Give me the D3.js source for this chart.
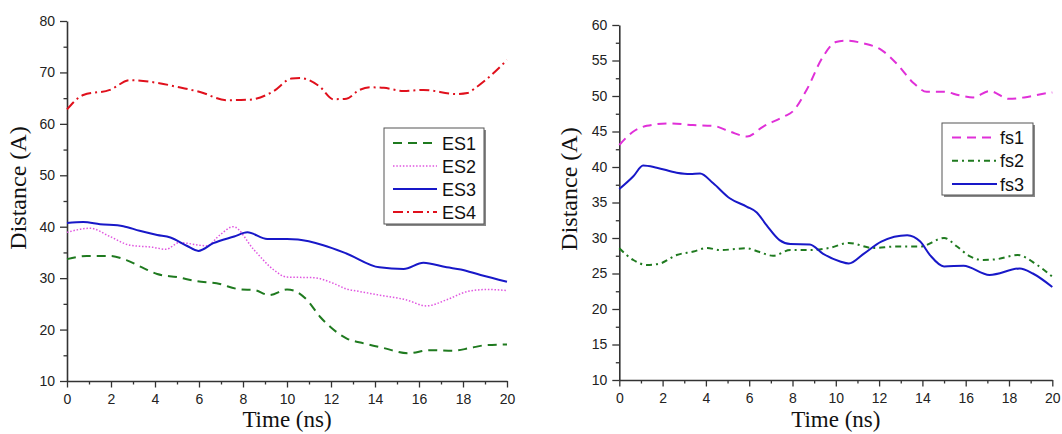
<!DOCTYPE html>
<html>
<head>
<meta charset="utf-8">
<script src="https://cdn.jsdelivr.net/npm/d3@7"></script>
<style>
  html, body { margin: 0; padding: 0; background: #fff; }
  svg { display: block; }
  .tick text { font-family: "Liberation Sans", Arial, sans-serif; font-size: 14px; fill: #222; }
</style>
</head>
<body>
<svg id="chart" width="1062" height="434"></svg>
<script>
// ---- Panel A: ES1–ES4 distances ----
const es1Time = [0, 0.9, 1.95, 2.7, 3.5, 4.1, 5, 5.9, 6.8, 7.9, 8.5, 9.2, 10, 10.3, 10.9, 11.5, 12, 12.7, 13.5, 14.4, 15.5, 16.5, 17.6, 18.3, 19.1, 20];
const es1Dist = [33.7, 34.3, 34.3, 33.5, 31.9, 30.8, 30.2, 29.4, 29.0, 27.8, 27.7, 26.7, 27.8, 27.6, 25.8, 22.5, 20.4, 18.3, 17.3, 16.4, 15.4, 16.0, 15.9, 16.4, 17.0, 17.1];

const es2Time = [0, 1.05, 1.95, 2.86, 3.9, 4.5, 5.1, 6.35, 6.95, 7.55, 8.5, 9.4, 10, 11.2, 12.1, 12.7, 13.3, 14.2, 15.4, 16.35, 17.26, 18.2, 19.1, 20];
const es2Dist = [38.9, 39.7, 38.1, 36.4, 36.0, 35.6, 36.9, 36.3, 38.4, 40.0, 35.5, 31.6, 30.2, 30.1, 29.0, 27.9, 27.4, 26.7, 25.8, 24.6, 25.8, 27.4, 27.8, 27.6];

const es3Time = [0, 0.74, 1.5, 2.56, 3.3, 4.1, 4.7, 5.44, 5.97, 6.65, 7.6, 8.2, 9.1, 10, 10.5, 11.65, 12.7, 14.2, 15.3, 16.2, 17.26, 17.9, 18.8, 20];
const es3Dist = [40.7, 40.9, 40.5, 40.1, 39.2, 38.4, 37.9, 36.3, 35.3, 36.8, 38.1, 38.9, 37.6, 37.6, 37.5, 36.4, 34.8, 32.1, 31.8, 33.0, 32.1, 31.7, 30.6, 29.3];

const es4Time = [0, 0.74, 1.95, 2.86, 4.2, 5.1, 6.05, 7.26, 8.3, 9.37, 10.2, 10.6, 11.5, 12.1, 12.7, 13.3, 13.8, 14.4, 15.3, 16.2, 17.7, 18.2, 18.6, 20];
const es4Dist = [62.8, 65.6, 66.6, 68.5, 67.9, 67.1, 66.2, 64.6, 64.7, 66.3, 68.8, 68.9, 67.2, 64.8, 64.9, 66.6, 67.1, 67.0, 66.4, 66.6, 65.8, 66.0, 67.1, 72.4];

// ---- Panel B: fs1–fs3 distances ----
const fs1Time = [0, 0.65, 1.27, 2.34, 3.4, 4.34, 5.1, 5.9, 6.65, 7.6, 8.0, 8.65, 9.4, 10, 10.4, 11.3, 12.1, 12.8, 13.6, 14.2, 15, 15.7, 16.35, 17.1, 18.0, 18.7, 19.75, 20];
const fs1Dist = [43.1, 45.0, 45.8, 46.15, 45.9, 45.8, 45.0, 44.3, 45.7, 47.1, 47.8, 50.85, 55.5, 57.6, 57.8, 57.4, 56.5, 54.6, 51.8, 50.6, 50.6, 50.1, 49.8, 50.7, 49.6, 49.8, 50.4, 50.5];

const fs2Time = [0, 0.65, 1.27, 1.87, 2.65, 3.43, 4.05, 4.65, 5.9, 6.4, 7.1, 7.9, 8.8, 9.7, 10.6, 11.7, 12.8, 13.9, 15, 15.6, 16.2, 16.8, 17.4, 18.4, 19.3, 20];
const fs2Dist = [28.55, 26.9, 26.2, 26.4, 27.6, 28.1, 28.6, 28.3, 28.55, 28.1, 27.5, 28.3, 28.3, 28.6, 29.3, 28.6, 28.8, 28.8, 30.0, 28.8, 27.4, 26.9, 27.0, 27.6, 26.2, 24.55];

const fs3Time = [0, 0.65, 1.1, 1.73, 2.65, 3.27, 3.73, 4.34, 5.1, 5.9, 6.35, 6.8, 7.4, 7.9, 8.8, 9.4, 10.2, 10.6, 11.3, 12.1, 13.3, 13.9, 14.35, 15, 15.9, 17.1, 18.5, 19.1, 20];
const fs3Dist = [36.9, 38.7, 40.2, 39.9, 39.2, 39.0, 39.1, 37.7, 35.6, 34.4, 33.6, 31.8, 29.7, 29.15, 29.1, 27.8, 26.7, 26.4, 27.8, 29.5, 30.4, 29.5, 27.6, 26.0, 26.1, 24.8, 25.7, 25.0, 23.1];

// Tick values
const timeTicks = [0, 2, 4, 6, 8, 10, 12, 14, 16, 18, 20];
const timeMinor = [1, 3, 5, 7, 9, 11, 13, 15, 17, 19];
const leftYTicks = [10, 20, 30, 40, 50, 60, 70, 80];
const leftYMinor = [15, 25, 35, 45, 55, 65, 75];
const rightYTicks = [10, 15, 20, 25, 30, 35, 40, 45, 50, 55, 60];
const rightYMinor = [12.5, 17.5, 22.5, 27.5, 32.5, 37.5, 42.5, 47.5, 52.5, 57.5];

const svg = d3.select("#chart");

const zip = (t, v) => t.map((x, i) => [x, v[i]]);

function drawPanel(cfg) {
  const x = d3.scaleLinear().domain([0, 20]).range(cfg.xRange);
  const y = d3.scaleLinear().domain(cfg.yDomain).range(cfg.yRange);
  const g = svg.append("g");

  // minor ticks
  g.append("g")
    .attr("transform", `translate(0,${cfg.yRange[0]})`)
    .call(d3.axisBottom(x).tickValues(timeMinor).tickSize(3.5).tickFormat(""))
    .call(a => a.select(".domain").remove())
    .call(a => a.selectAll("line").attr("stroke", "#333").attr("stroke-width", 1.3));
  g.append("g")
    .attr("transform", `translate(${cfg.xRange[0]},0)`)
    .call(d3.axisLeft(y).tickValues(cfg.yMinor).tickSize(3.5).tickFormat(""))
    .call(a => a.select(".domain").remove())
    .call(a => a.selectAll("line").attr("stroke", "#333").attr("stroke-width", 1.3));

  // major axes
  g.append("g")
    .attr("transform", `translate(0,${cfg.yRange[0]})`)
    .call(d3.axisBottom(x).tickValues(timeTicks).tickSize(6.5).tickSizeOuter(0).tickPadding(7))
    .call(a => a.select(".domain").attr("stroke", "#333").attr("stroke-width", 1.6))
    .call(a => a.selectAll("line").attr("stroke", "#333").attr("stroke-width", 1.3));
  g.append("g")
    .attr("transform", `translate(${cfg.xRange[0]},0)`)
    .call(d3.axisLeft(y).tickValues(cfg.yTicks).tickSize(7).tickSizeOuter(0).tickPadding(5))
    .call(a => a.select(".domain").attr("stroke", "#333").attr("stroke-width", 1.6))
    .call(a => a.selectAll("line").attr("stroke", "#333").attr("stroke-width", 1.3));

  const line = d3.line().x(d => x(d[0])).y(d => y(d[1])).curve(d3.curveMonotoneX);

  cfg.series.forEach(s => {
    g.append("path")
      .datum(zip(s.t, s.v))
      .attr("fill", "none")
      .attr("stroke", s.color)
      .attr("stroke-width", s.width)
      .attr("stroke-dasharray", s.dash)
      .attr("d", line);
  });

  // axis titles
  g.append("text")
    .attr("x", (cfg.xRange[0] + cfg.xRange[1]) / 2)
    .attr("y", 427)
    .attr("text-anchor", "middle")
    .attr("font-family", "'Liberation Serif', 'Times New Roman', serif")
    .attr("font-size", 23)
    .attr("fill", "#111")
    .text("Time (ns)");
  g.append("text")
    .attr("transform", `translate(${cfg.yTitleX},${cfg.yTitleY}) rotate(-90)`)
    .attr("text-anchor", "middle")
    .attr("font-family", "'Liberation Serif', 'Times New Roman', serif")
    .attr("font-size", 24)
    .attr("fill", "#111")
    .text("Distance (A)");

  // legend
  const L = cfg.legend;
  const lg = g.append("g");
  lg.append("rect")
    .attr("x", L.x + 2).attr("y", L.y + 2).attr("width", L.w).attr("height", L.h)
    .attr("fill", "#888");
  lg.append("rect")
    .attr("x", L.x).attr("y", L.y).attr("width", L.w).attr("height", L.h)
    .attr("fill", "#fff").attr("stroke", "#555").attr("stroke-width", 1);
  cfg.series.forEach((s, i) => {
    const cy = L.y + L.first + i * L.step;
    lg.append("line")
      .attr("x1", L.x + L.lx1).attr("x2", L.x + L.lx2)
      .attr("y1", cy).attr("y2", cy)
      .attr("stroke", s.color).attr("stroke-width", s.width)
      .attr("stroke-dasharray", s.dash);
    lg.append("text")
      .attr("x", L.x + L.tx).attr("y", cy + 6.5)
      .attr("font-family", "'Liberation Sans', Arial, sans-serif")
      .attr("font-size", 18)
      .attr("fill", "#111")
      .text(s.name);
  });
}

drawPanel({
  xRange: [67, 507],
  yDomain: [10, 80],
  yRange: [381, 21],
  yTicks: leftYTicks,
  yMinor: leftYMinor,
  yTitleX: 26, yTitleY: 188,
  legend: { x: 384, y: 128, w: 100, h: 96, first: 15, step: 23, lx1: 9, lx2: 53, tx: 58 },
  series: [
    { name: "ES1", t: es1Time, v: es1Dist, color: "#1f7a1f", width: 2, dash: "9,6" },
    { name: "ES2", t: es2Time, v: es2Dist, color: "#e055e0", width: 1.5, dash: "1.5,1.8" },
    { name: "ES3", t: es3Time, v: es3Dist, color: "#1818c8", width: 2, dash: null },
    { name: "ES4", t: es4Time, v: es4Dist, color: "#e0101c", width: 2, dash: "10,4,2,4" }
  ]
});

drawPanel({
  xRange: [619.3, 1052.3],
  yDomain: [10, 60],
  yRange: [380, 25],
  yTicks: rightYTicks,
  yMinor: rightYMinor,
  yTitleX: 577, yTitleY: 189,
  legend: { x: 942, y: 123, w: 91, h: 72, first: 14.5, step: 23.3, lx1: 10, lx2: 55, tx: 58 },
  series: [
    { name: "fs1", t: fs1Time, v: fs1Dist, color: "#e030d8", width: 2, dash: "9,6" },
    { name: "fs2", t: fs2Time, v: fs2Dist, color: "#1f7a1f", width: 2, dash: "6,4,2,4" },
    { name: "fs3", t: fs3Time, v: fs3Dist, color: "#1818c8", width: 2, dash: null }
  ]
});
</script>
</body>
</html>
